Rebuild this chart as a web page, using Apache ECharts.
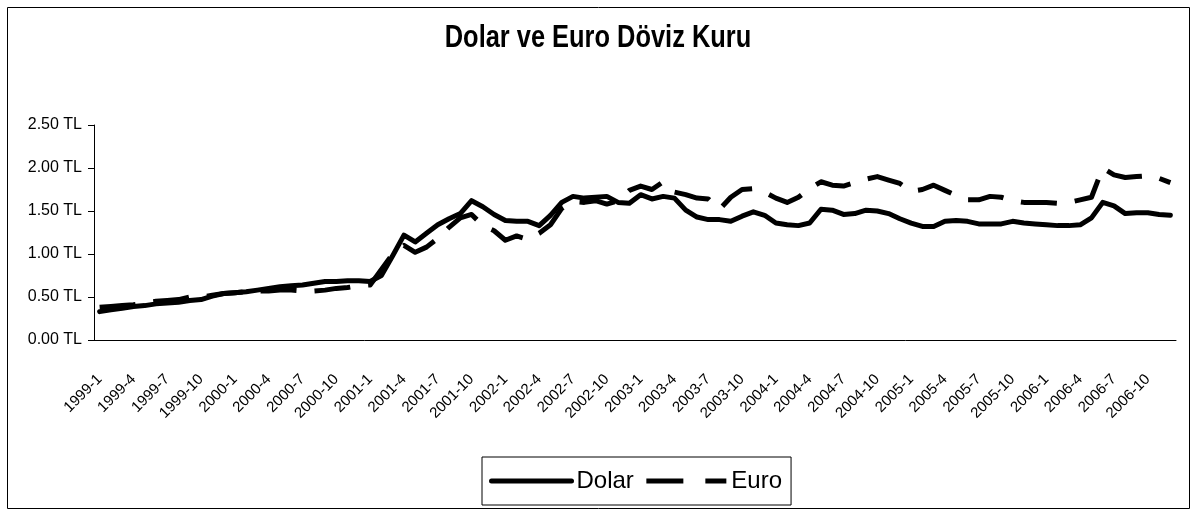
<!DOCTYPE html>
<html>
<head>
<meta charset="utf-8">
<script src="https://cdn.jsdelivr.net/npm/echarts@6/dist/echarts.min.js"></script>
<style>
  html, body { margin: 0; padding: 0; background: #fff; }
  #main { width: 1197px; height: 516px; }
</style>
</head>
<body>
<div id="main"></div>
<script>
// aylar 1999-1 .. 2006-12
var months = [
  '1999-1','1999-2','1999-3','1999-4','1999-5','1999-6','1999-7','1999-8','1999-9','1999-10','1999-11','1999-12',
  '2000-1','2000-2','2000-3','2000-4','2000-5','2000-6','2000-7','2000-8','2000-9','2000-10','2000-11','2000-12',
  '2001-1','2001-2','2001-3','2001-4','2001-5','2001-6','2001-7','2001-8','2001-9','2001-10','2001-11','2001-12',
  '2002-1','2002-2','2002-3','2002-4','2002-5','2002-6','2002-7','2002-8','2002-9','2002-10','2002-11','2002-12',
  '2003-1','2003-2','2003-3','2003-4','2003-5','2003-6','2003-7','2003-8','2003-9','2003-10','2003-11','2003-12',
  '2004-1','2004-2','2004-3','2004-4','2004-5','2004-6','2004-7','2004-8','2004-9','2004-10','2004-11','2004-12',
  '2005-1','2005-2','2005-3','2005-4','2005-5','2005-6','2005-7','2005-8','2005-9','2005-10','2005-11','2005-12',
  '2006-1','2006-2','2006-3','2006-4','2006-5','2006-6','2006-7','2006-8','2006-9','2006-10','2006-11','2006-12'
];

var dolar = [
  0.33, 0.35, 0.37, 0.39, 0.40, 0.42, 0.43, 0.44, 0.46, 0.47, 0.51, 0.54,
  0.55, 0.56, 0.58, 0.60, 0.62, 0.63, 0.64, 0.66, 0.68, 0.68, 0.69, 0.69,
  0.68, 0.75, 0.98, 1.22, 1.14, 1.24, 1.34, 1.41, 1.47, 1.62, 1.55, 1.46,
  1.39, 1.38, 1.38, 1.33, 1.45, 1.60, 1.67, 1.65, 1.66, 1.67, 1.60, 1.59,
  1.69, 1.64, 1.67, 1.65, 1.51, 1.43, 1.40, 1.40, 1.38, 1.44, 1.49, 1.45,
  1.36, 1.34, 1.33, 1.36, 1.52, 1.51, 1.46, 1.47, 1.51, 1.50, 1.47, 1.41,
  1.36, 1.32, 1.32, 1.38, 1.39, 1.38, 1.35, 1.35, 1.35, 1.38, 1.36, 1.35,
  1.34, 1.33, 1.33, 1.34, 1.42, 1.60, 1.56, 1.47, 1.48, 1.48, 1.46, 1.45
];

var euro = [
  0.38, 0.39, 0.40, 0.41, 0.43, 0.45, 0.46, 0.47, 0.50, 0.50, 0.52, 0.54,
  0.55, 0.56, 0.57, 0.57, 0.58, 0.58, 0.57, 0.57, 0.58, 0.60, 0.61, 0.63,
  0.64, 0.82, 1.00, 1.10, 1.02, 1.08, 1.18, 1.31, 1.42, 1.46, 1.33, 1.27,
  1.16, 1.21, 1.17, 1.24, 1.34, 1.53, 1.61, 1.60, 1.62, 1.58, 1.62, 1.74,
  1.79, 1.75, 1.84, 1.72, 1.69, 1.65, 1.64, 1.52, 1.66, 1.75, 1.76, 1.72,
  1.65, 1.60, 1.66, 1.76, 1.84, 1.80, 1.79, 1.83, 1.87, 1.90, 1.86, 1.82,
  1.73, 1.75, 1.80, 1.74, 1.68, 1.63, 1.63, 1.67, 1.66, 1.62, 1.60, 1.60,
  1.60, 1.59, 1.60, 1.63, 1.66, 2.00, 1.92, 1.89, 1.90, 1.91, 1.88, 1.83
];

var yTicks = [0, 0.5, 1, 1.5, 2, 2.5];

var sans = "'Liberation Sans', Arial, sans-serif";

var myChart = echarts.init(document.getElementById('main'));

var option = {
  animation: false,
  backgroundColor: '#fff',
  textStyle: { fontFamily: sans, color: '#000' },
  graphic: [
    {
      // dis çerçeve
      type: 'rect',
      shape: { x: 7.5, y: 7.5, width: 1182, height: 501 },
      style: { fill: 'none', stroke: '#000', lineWidth: 1 },
      silent: true
    },
    {
      // baslik (dar yazi gibi görünsün diye yatay sıkıştırıldı)
      type: 'text',
      x: 598,
      y: 23,
      scaleX: 0.82,
      style: {
        text: 'Dolar ve Euro Döviz Kuru',
        font: 'bold 31px ' + sans,
        fill: '#000',
        textAlign: 'center',
        textVerticalAlign: 'top'
      },
      silent: true
    }
  ],
  legend: {
    data: [
      { name: 'Dolar', itemStyle: { opacity: 0 }, lineStyle: { width: 5, type: 'solid', cap: 'round', color: '#000' } },
      { name: 'Euro', itemStyle: { opacity: 0 }, lineStyle: { width: 5, type: [37, 22], cap: 'butt', color: '#000' } }
    ],
    left: 482,
    top: 457,
    itemWidth: 80,
    itemHeight: 14,
    itemGap: 10,
    padding: [12, 9, 12, 7],
    borderColor: '#000',
    borderWidth: 1,
    textStyle: { fontFamily: sans, fontSize: 24, color: '#000' }
  },
  grid: { left: 94, right: 21, top: 125, bottom: 176 },
  xAxis: {
    type: 'category',
    data: months,
    boundaryGap: true,
    axisLine: { lineStyle: { color: '#000', width: 1 } },
    axisTick: { interval: 0, length: 5, lineStyle: { color: '#000' } },
    axisLabel: {
      interval: 2,
      rotate: 45,
      margin: 37,
      fontFamily: sans,
      fontSize: 15,
      color: '#000'
    },
    splitLine: { show: false }
  },
  yAxis: {
    type: 'value',
    min: yTicks[0],
    max: yTicks[yTicks.length - 1],
    interval: 0.5,
    axisLine: { show: true, lineStyle: { color: '#000', width: 1 } },
    axisTick: { show: true, length: 6, lineStyle: { color: '#000' } },
    axisLabel: {
      margin: 12,
      fontFamily: sans,
      fontSize: 16,
      color: '#000',
      formatter: function (v) { return v.toFixed(2) + ' TL'; }
    },
    splitLine: { show: false }
  },
  series: [
    {
      name: 'Dolar',
      type: 'line',
      data: dolar,
      symbol: 'none',
      itemStyle: { color: '#000' },
      lineStyle: { color: '#000', width: 5, cap: 'round', join: 'round' }
    },
    {
      name: 'Euro',
      type: 'line',
      data: euro,
      symbol: 'none',
      itemStyle: { color: '#000' },
      lineStyle: { color: '#000', width: 5, type: [36, 18], cap: 'butt', join: 'round' }
    }
  ]
};

myChart.setOption(option);
</script>
</body>
</html>
